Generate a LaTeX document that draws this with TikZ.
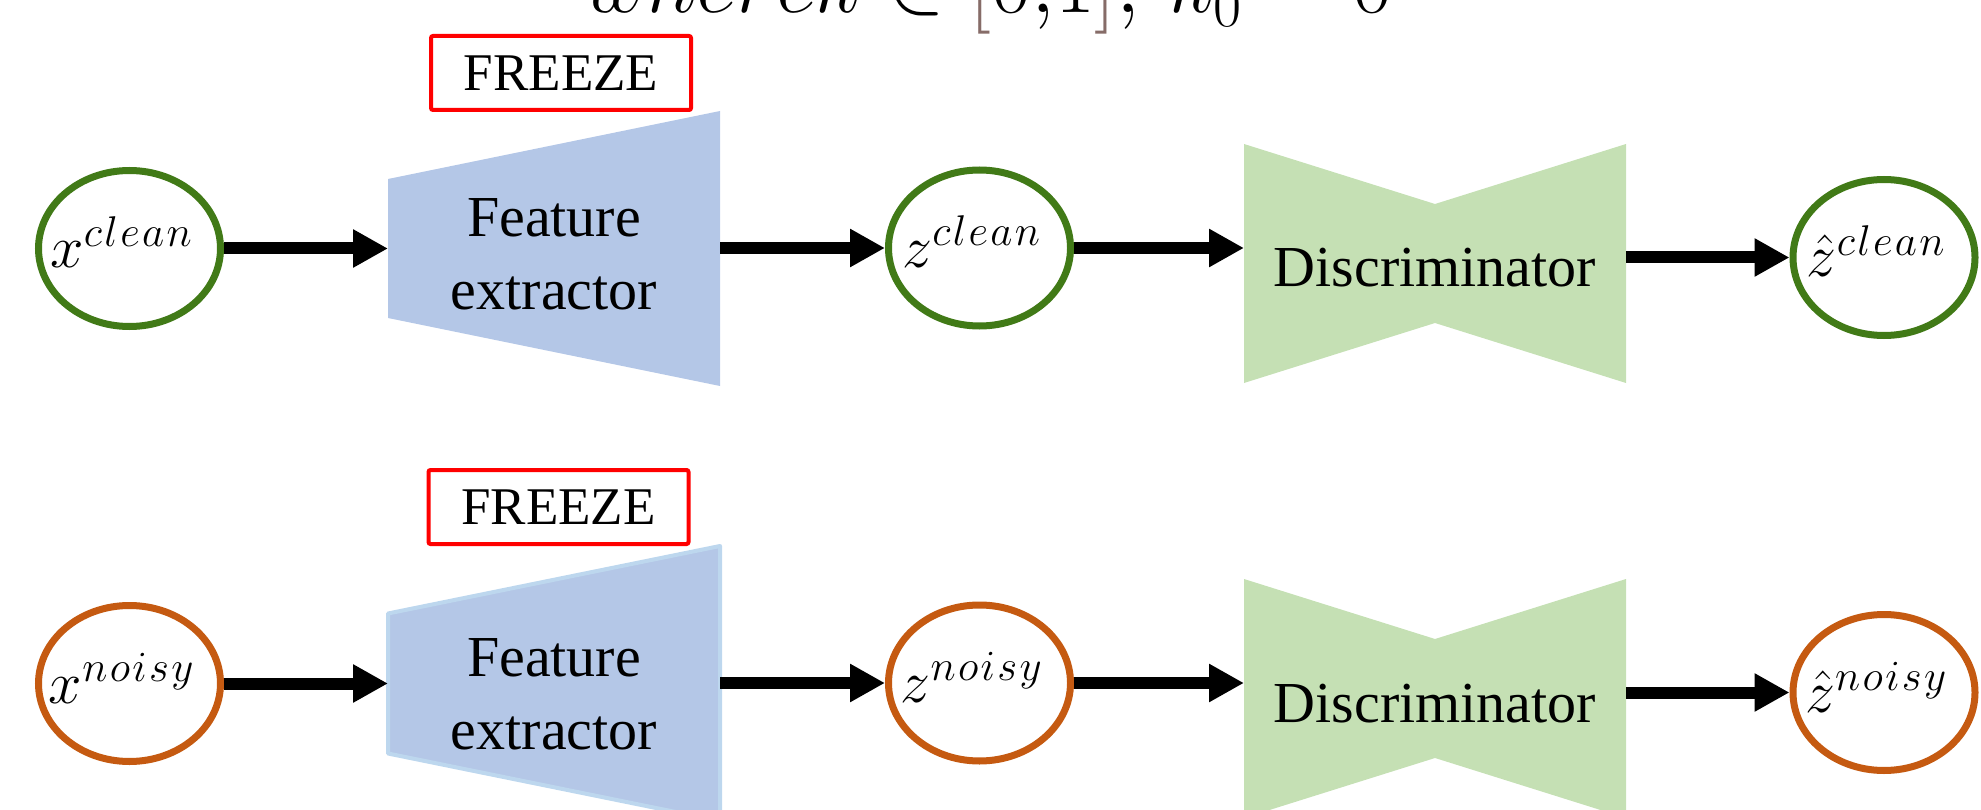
\RequirePackage{fix-cm}
\documentclass[tikz,border=0pt]{standalone}
\usepackage{fontspec}
\setmainfont{Liberation Serif}
\usetikzlibrary{arrows.meta,shapes.geometric,calc}
\DeclareMathSizes{60}{60}{43}{30}
\DeclareMathSizes{87}{87}{61}{44}
\definecolor{ringgreen}{RGB}{65,122,23}
\definecolor{ringorange}{RGB}{197,90,17}
\definecolor{feblue}{RGB}{180,199,231}
\definecolor{feedge}{RGB}{189,215,238}
\definecolor{discgreen}{RGB}{197,224,180}
\definecolor{bkt}{RGB}{134,108,104}
\newcommand\cleanSup{c\mkern1mu l\mkern1mu e\mkern1mu a\mkern1mu n}
\newcommand\noisySup{n\mkern1mu o\mkern1mu i\mkern1mu s\mkern1mu y}
\begin{document}
\begin{tikzpicture}[x=1pt,y=-1pt,
  ring/.style={ellipse, draw, line width=7pt, minimum width=182pt, minimum height=156pt, inner sep=0pt, fill=white},
  lbl/.style={anchor=base, inner sep=0pt, font=\fontsize{60}{70}\selectfont},
  hold/.style={rectangle, inner sep=0pt, outer sep=0pt},
  txt/.style={align=center, inner sep=0pt, font=\fontsize{58}{73}\selectfont},
  freeze/.style={draw=red, line width=4pt, rounded corners=2pt, minimum width=260pt, minimum height=74pt, inner sep=0pt, font=\fontsize{53}{60}\selectfont},
  conn/.style={line width=12pt, -{Triangle[length=35pt,width=36pt]}}]
\useasboundingbox (0,0) rectangle (1981,810);

% cut-off caption at the top
\node[anchor=base west, inner sep=0pt, font=\fontsize{87}{100}\selectfont] (cap) at (584,13)
  {$wherek \in {\color{bkt}[}0{,}1{\color{bkt}]},\mkern3mu k_0 = 0$};

% ---------- row 1 (clean) ----------
\node[hold, minimum width=332pt, minimum height=275pt] (fe1) at (554,248.5) {};
\fill[feblue] (fe1.north east) -- (fe1.south east) -- ($(fe1.west)+(0,69.5)$) -- ($(fe1.west)+(0,-69.5)$) -- cycle;
\node[txt] (fe1t) at (554,254.5) {Feature\\extractor};
\node[freeze] (fz1) at (561,73) {FREEZE};

\node[hold, minimum width=382pt, minimum height=239pt] (d1) at (1435,263.5) {};
\fill[discgreen] (d1.north west) -- ($(d1.north)+(0,60)$) -- (d1.north east) -- (d1.south east) -- ($(d1.south)+(0,-60)$) -- (d1.south west) -- cycle;
\node[txt, anchor=base] (d1t) at (1435,287) {Discriminator};

\node[ring, draw=ringgreen] (xc) at (129.5,248.5) {};
\node[ring, draw=ringgreen] (zc) at (979.5,248) {};
\node[ring, draw=ringgreen] (hc) at (1884,257.5) {};
\node[lbl] (xcl) at ($(xc)+(-8,19.5)$) {$x^{\cleanSup}$};
\node[lbl] (zcl) at ($(zc)+(-8,19.5)$) {$z^{\cleanSup}$};
\node[lbl] (hcl) at ($(hc)+(-8,19.5)$) {$\hat{z}^{\cleanSup}$};

\draw[conn] (xc.east) -- (fe1.west |- xc.east);
\draw[conn] (fe1.east |- zc.west) -- (zc.west);
\draw[conn] (zc.east) -- (d1.west |- zc.east);
\draw[conn] (d1.east |- hc.west) -- (hc.west);

% ---------- row 2 (noisy) ----------
\node[hold, minimum width=332pt, minimum height=275pt] (fe2) at (554,683.5) {};
\filldraw[fill=feblue, draw=feedge, line width=4pt, line join=round] (fe2.north east) -- (fe2.south east) -- ($(fe2.west)+(0,70)$) -- ($(fe2.west)+(0,-70)$) -- cycle;
\node[txt] (fe2t) at (554,694.5) {Feature\\extractor};
\node[freeze] (fz2) at (558.5,507) {FREEZE};

\node[hold, minimum width=382pt, minimum height=239pt] (d2) at (1435,698.5) {};
\fill[discgreen] (d2.north west) -- ($(d2.north)+(0,60)$) -- (d2.north east) -- (d2.south east) -- ($(d2.south)+(0,-60)$) -- (d2.south west) -- cycle;
\node[txt, anchor=base] (d2t) at (1435,722) {Discriminator};

\node[ring, draw=ringorange] (xn) at (129.5,683.5) {};
\node[ring, draw=ringorange] (zn) at (979.5,683) {};
\node[ring, draw=ringorange] (hn) at (1884,692.5) {};
\node[lbl] (xnl) at ($(xn)+(-8,19.5)$) {$x^{\noisySup}$};
\node[lbl] (znl) at ($(zn)+(-8,19.5)$) {$z^{\noisySup}$};
\node[lbl] (hnl) at ($(hn)+(-8,19.5)$) {$\hat{z}^{\noisySup}$};

\draw[conn] (xn.east) -- (fe2.west |- xn.east);
\draw[conn] (fe2.east |- zn.west) -- (zn.west);
\draw[conn] (zn.east) -- (d2.west |- zn.east);
\draw[conn] (d2.east |- hn.west) -- (hn.west);
\end{tikzpicture}
\end{document}
